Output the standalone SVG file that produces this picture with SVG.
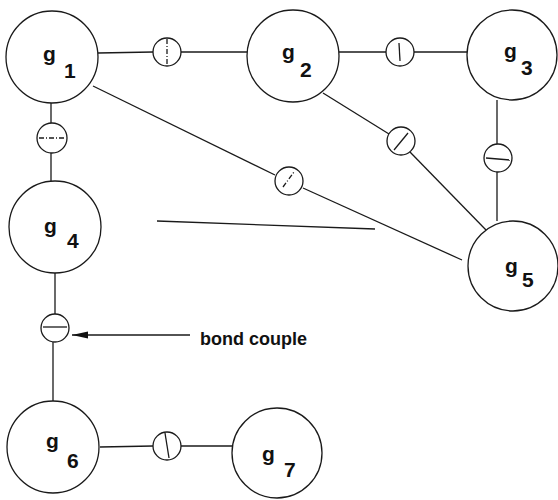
<svg xmlns="http://www.w3.org/2000/svg" width="558" height="500" viewBox="0 0 558 500">
  <defs>
    <style>
      .node { fill: none; stroke: #1a1a1a; stroke-width: 1.3; }
      .bond { fill: #fff; stroke: #1a1a1a; stroke-width: 1.3; }
      .edge { fill: none; stroke: #1a1a1a; stroke-width: 1.3; }
      .mark { fill: none; stroke: #1a1a1a; stroke-width: 1.3; }
      .dash { stroke-dasharray: 5 2 1 2; }
      .lbl { font-family: "Liberation Sans", Arial, sans-serif; font-weight: bold; font-size: 21px; fill: #111; }
      .note { font-family: "Liberation Sans", Arial, sans-serif; font-weight: bold; font-size: 18px; fill: #111; }
    </style>
    <marker id="arrow" viewBox="0 0 16 10" refX="16" refY="5" markerWidth="16" markerHeight="10" markerUnits="userSpaceOnUse" orient="auto">
      <path d="M0,1.5 L16,5 L0,8.5 Z" fill="#111"/>
    </marker>
  </defs>

  <!-- connectors between groups, with their bond couples -->
  <g id="connectors">
    <!-- g1 - g2 -->
    <line class="edge" x1="98" y1="53" x2="153" y2="52"/>
    <line class="edge" x1="181" y1="52" x2="247" y2="52"/>
    <circle class="bond" cx="167" cy="52" r="14"/>
    <line class="mark dash" x1="167" y1="39" x2="167" y2="65"/>

    <!-- g2 - g3 -->
    <line class="edge" x1="339" y1="52" x2="386" y2="52"/>
    <line class="edge" x1="414" y1="52" x2="467" y2="52"/>
    <circle class="bond" cx="400" cy="52" r="14"/>
    <line class="mark" x1="399" y1="43" x2="400" y2="61"/>

    <!-- g3 - g5 -->
    <line class="edge" x1="497" y1="100" x2="497" y2="144"/>
    <line class="edge" x1="497" y1="172" x2="497" y2="221"/>
    <circle class="bond" cx="498" cy="158" r="14"/>
    <line class="mark" x1="486" y1="158" x2="510" y2="160"/>

    <!-- g2 - g5 -->
    <line class="edge" x1="323" y1="93" x2="389" y2="134"/>
    <line class="edge" x1="410" y1="152" x2="486" y2="230"/>
    <circle class="bond" cx="401" cy="141" r="14"/>
    <line class="mark" x1="394" y1="150" x2="408" y2="133"/>

    <!-- g1 - g5 -->
    <line class="edge" x1="93" y1="86" x2="275" y2="175"/>
    <line class="edge" x1="303" y1="188" x2="462" y2="260"/>
    <circle class="bond" cx="289" cy="181" r="14"/>
    <line class="mark dash" x1="283" y1="187" x2="294" y2="172"/>

    <!-- g1 - g4 -->
    <line class="edge" x1="51" y1="103" x2="51" y2="123"/>
    <line class="edge" x1="51" y1="153" x2="51" y2="181"/>
    <circle class="bond" cx="52" cy="138" r="15"/>
    <line class="mark dash" x1="39" y1="138" x2="65" y2="138"/>

    <!-- g4 - g6 -->
    <line class="edge" x1="55" y1="273" x2="55" y2="314"/>
    <line class="edge" x1="53" y1="342" x2="53" y2="401"/>
    <circle class="bond" cx="55" cy="328" r="14"/>
    <line class="mark" x1="43" y1="327" x2="67" y2="327"/>

    <!-- g6 - g7 -->
    <line class="edge" x1="100" y1="447" x2="153" y2="446"/>
    <line class="edge" x1="181" y1="446" x2="232" y2="446"/>
    <circle class="bond" cx="167" cy="446" r="14"/>
    <line class="mark" x1="165" y1="433" x2="169" y2="458"/>

    <!-- free stroke -->
    <line class="edge" x1="157" y1="221" x2="375" y2="229"/>

    <!-- pointer to the bond couple -->
    <line class="edge" x1="190" y1="335" x2="72" y2="335" marker-end="url(#arrow)"/>
  </g>

  <g id="g1">
    <circle class="node" cx="52" cy="57" r="46"/>
    <text class="lbl" x="43" y="61">g</text>
    <text class="lbl" x="64" y="78">1</text>
  </g>
  <g id="g2">
    <circle class="node" cx="293" cy="56" r="46"/>
    <text class="lbl" x="282" y="59">g</text>
    <text class="lbl" x="300" y="77">2</text>
  </g>
  <g id="g3">
    <circle class="node" cx="512" cy="55" r="45"/>
    <text class="lbl" x="504" y="58">g</text>
    <text class="lbl" x="521" y="75">3</text>
  </g>
  <g id="g4">
    <circle class="node" cx="55" cy="227" r="46"/>
    <text class="lbl" x="44" y="233">g</text>
    <text class="lbl" x="67" y="248">4</text>
  </g>
  <g id="g5">
    <circle class="node" cx="513" cy="266" r="45"/>
    <text class="lbl" x="505" y="273">g</text>
    <text class="lbl" x="522" y="287">5</text>
  </g>
  <g id="g6">
    <circle class="node" cx="53" cy="447" r="46"/>
    <text class="lbl" x="46" y="448">g</text>
    <text class="lbl" x="67" y="468">6</text>
  </g>
  <g id="g7">
    <circle class="node" cx="277" cy="453" r="45"/>
    <text class="lbl" x="262" y="461">g</text>
    <text class="lbl" x="284" y="477">7</text>
  </g>

  <g id="bond-couple-label">
    <text class="note" x="200" y="345">bond couple</text>
  </g>
</svg>
